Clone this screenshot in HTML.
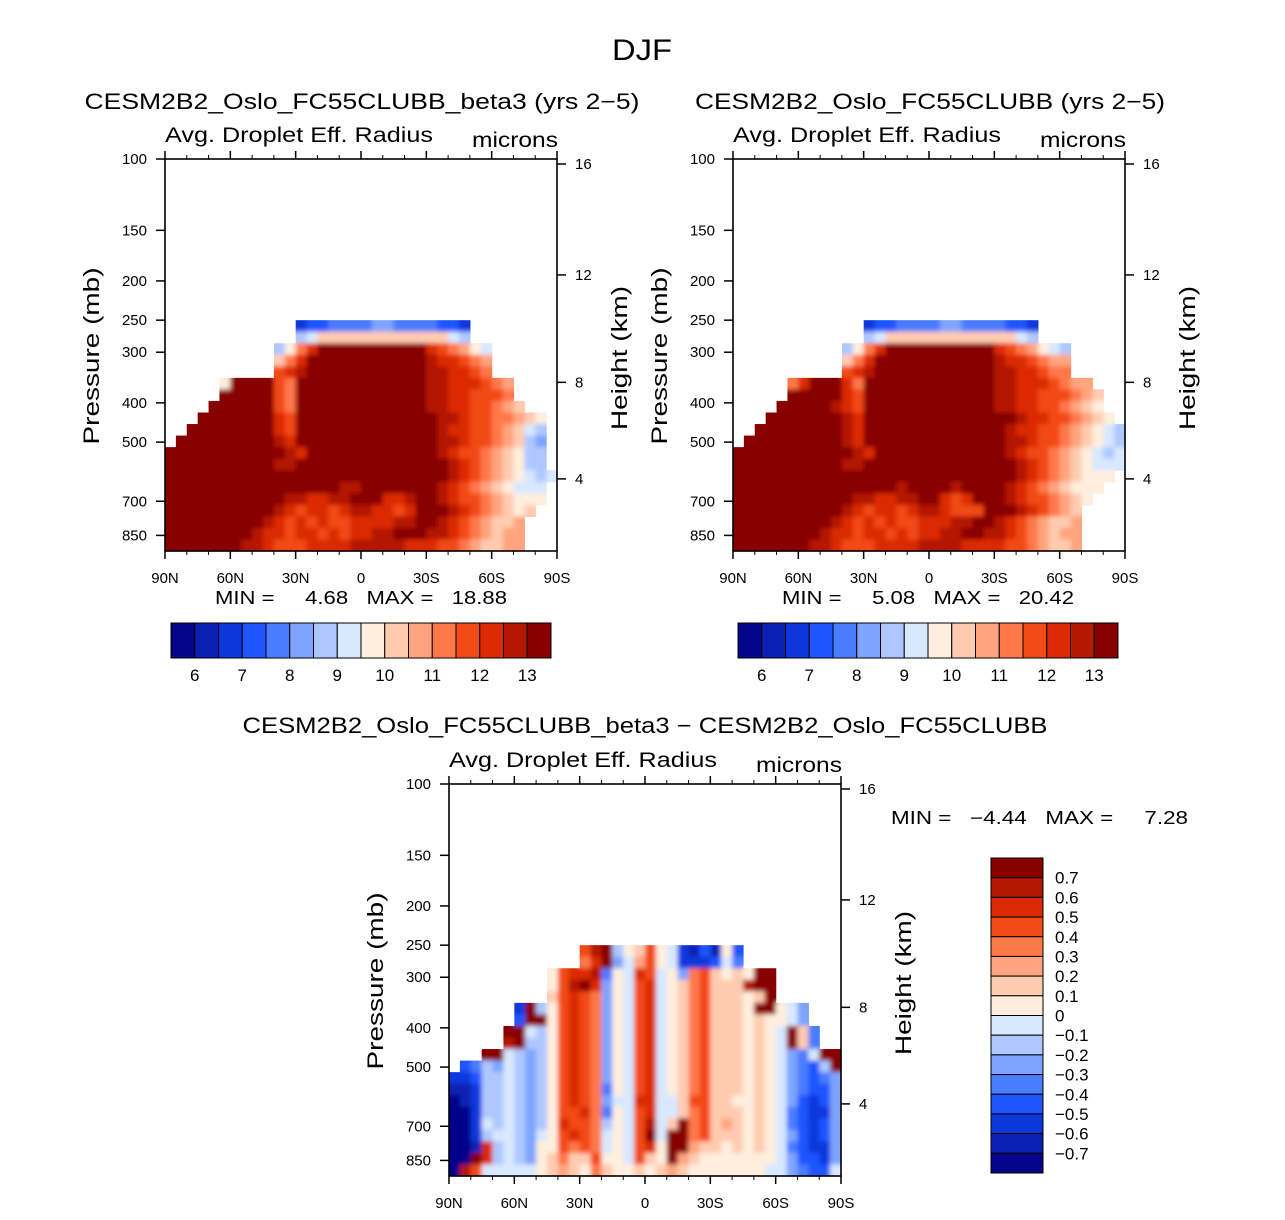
<!DOCTYPE html>
<html><head><meta charset="utf-8"><style>
html,body{margin:0;padding:0;background:#fff;}
svg text{font-family:"Liberation Sans","DejaVu Sans",sans-serif;fill:#000;white-space:pre;}
</style></head><body>
<svg id="fig" width="1285" height="1215" viewBox="0 0 1285 1215" xmlns="http://www.w3.org/2000/svg">
<defs>
<filter id="smooth" x="0" y="0" width="1" height="1">
<feGaussianBlur in="SourceGraphic" stdDeviation="2.5" result="b"/>
<feComponentTransfer in="b" result="c"><feFuncA type="linear" slope="3" intercept="0"/></feComponentTransfer>
<feComposite in="c" in2="SourceAlpha" operator="in"/>
</filter>
</defs>
<text x="642" y="60" font-size="30" text-anchor="middle" textLength="60" lengthAdjust="spacingAndGlyphs">DJF</text>
</svg>
<script>
const palette=['#05058a','#0a20b4','#0d37dc','#1f55ff','#4a7cff','#7ea4ff','#aec8ff','#d8e8ff','#ffeedd','#ffcbb0','#ffa47e','#ff7848','#f24a18','#dc2a05','#b41800','#880000'];
const latTicks=['90N','60N','30N','0','30S','60S','90S'];
const presTicks=[100,150,200,250,300,400,500,700,850];
const hgtTicks=[16,12,8,4];
const cbLabels1=['6','7','8','9','10','11','12','13'];
const cbLabels3=['0.7','0.6','0.5','0.4','0.3','0.2','0.1','0','\u22120.1','\u22120.2','\u22120.3','\u22120.4','\u22120.5','\u22120.6','\u22120.7'];
const field1=[
"............2334444554444332........",
"............6799999999999976........",
"..........68bdffffffffffdcba87......",
"..........9bdfffffffffffeddcba......",
"..........cdefffffffffffeeddcb......",
".....8ffffcbffffffffffffeedddcba....",
".....fffffcbffffffffffffeeddcccb....",
"....ffffffcbffffffffffffeeddccba9...",
"...fffffffdcfffffffffffffeedccbba98.",
"..ffffffffdcfffffffffffffeddccba976.",
".fffffffffedfffffffffffffeedccba965.",
"fffffffffffedffffffffffffedccba9866.",
"ffffffffffeeffffffffffffffedcba9866.",
"ffffffffffffffffffffffffffedcba98767",
"ffffffffffffffffeefffffffedcba98777.",
"fffffffffffeeddeefffddeffedccba9888.",
"ffffffffffedcddcdeeddcdfffedcba989..",
"fffffffffedcdcdccddddeeffedcba99a...",
"ffffffffeddcddcdcddeefffeedcba9aa...",
"fffffffeedcccddddeeeeedddccba99aa..."];
const field2=[
"............2334444554444332........",
"............6799999999999976........",
"..........68bdffffffffffdcba876.....",
"..........9bdfffffffffffeddcbaa.....",
"..........cdefffffffffffeeddcbb.....",
".....bdfffdbffffffffffffeedddcbaa...",
".....fffffdcffffffffffffeeddcccba9..",
"....fffffedcffffffffffffeeddccba98..",
"...fffffffedffffffffffffffeddccba98.",
"..ffffffffedfffffffffffffeddccba9876",
".fffffffffedfffffffffffffeedccba9876",
"fffffffffffedffffffffffffedccba98767",
"ffffffffffeeffffffffffffffedcba98777",
"ffffffffffffffffffffffffffedcba9888.",
"fffffffffffffffeffffeffffedcba9888..",
"fffffffffffeeddeeffdcdfffedccba98...",
"ffffffffffedcddcdeedcccfffedcba9....",
"fffffffffedcdcdccdddeeffedcba99a....",
"ffffffffeddcddcdcddeeffeedcba9aa....",
"fffffffeedcccddddeeeeddddccba99a...."];
const field3=[
"............cef689c87213183.........",
"............bdf57ac87222374.........",
".........8cdde487dc785bc9898ff......",
".........8cefd587cd789bc999eff......",
".........9cdcb587cd789bc99989f......",
"......2f68cdcb587cd789bc9998ff875...",
"......3ff8cdcb587cd789bc999898875...",
".....ff768cdcb587cd789bc9998987f94..",
".....ef668cdcb587cd789bc9998987f94..",
"...ff76568cdcb587cd789bc9998987547ff",
".346576568cdcb587cd789bc99989875436f",
"2236676568cdcb587cd789bc999898754345",
"1126676568cdcb487cd789bc999898754335",
"0126676568cdcb577dd779cc998898753235",
"0026676568ccdb487cd779bc999898743225",
"0027676568dccb687ce79fbc9a9898743235",
"0026776578cdcb787cf7ffbc999898753235",
"001d676588cbcb787cd8ffa9989898743225",
"00fd676589b99c887c98fa98888888753325",
"0ec7777789a98b988989a988888887754337"];

const NS='http://www.w3.org/2000/svg';
const svg=document.getElementById('fig');
function el(tag,attrs,parent){const e=document.createElementNS(NS,tag);for(const k in attrs)e.setAttribute(k,attrs[k]);(parent||svg).appendChild(e);return e;}
function txt(s,x,y,size,anchor,parent,rot,len){const t=el('text',{x:x,y:y,'font-size':size,'text-anchor':anchor||'middle'},parent);if(rot)t.setAttribute('transform','rotate(-90 '+x+' '+y+')');if(len){t.setAttribute('textLength',len);t.setAttribute('lengthAdjust','spacingAndGlyphs');}t.textContent=s;return t;}
function hgtToP(z){if(z<=11)return 1013.25*Math.pow(1-z*6.5/288.15,5.2559);return 226.32*Math.exp(-(z-11)/6.3416);}

function panel(name,x0,y0,field,title,minmax){
  const W=392,H=392,K=405;
  const g=el('g',{});
  
  
  const xS=lat=>x0+(90-lat)/180*W;
  const yS=p=>y0+Math.log10(p/100)*K;
  const top=yS(250),bot=y0+H,nr=field.length,rh=(bot-top)/nr,cw=W/36;
  const cells=el('g',{filter:'url(#smooth)'},g);
  
  
  field.forEach((row,r)=>{
    for(let c=0;c<36;c++){
      const ch=row[c]||'.';
      if(ch==='.')continue;
      const lat=90-5*c;
      el('rect',{x:xS(lat),y:top+r*rh,width:cw+0.6,height:rh+0.6,fill:palette[parseInt(ch,16)]},cells);
    }
  });
  const frame=el('rect',{x:x0,y:y0,width:W,height:H,fill:'none',stroke:'#000','stroke-width':1.6},g);
  
  
  latTicks.forEach((l,i)=>{
    const x=xS(90-30*i);
    el('line',{x1:x,y1:y0+H,x2:x,y2:y0+H+8,stroke:'#000','stroke-width':1.5},g);
    el('line',{x1:x,y1:y0,x2:x,y2:y0-8,stroke:'#000','stroke-width':1.5},g);
    const t=txt(l,x,y0+H+32,15,'middle',g);
    
    
  });
  for(let l=80;l>-90;l-=10){if(l%30===0)continue;const x=xS(l);
    el('line',{x1:x,y1:y0+H,x2:x,y2:y0+H+4,stroke:'#000','stroke-width':1},g);
    el('line',{x1:x,y1:y0,x2:x,y2:y0-4,stroke:'#000','stroke-width':1},g);}
  presTicks.forEach(p=>{
    const y=yS(p);
    el('line',{x1:x0-9,y1:y,x2:x0,y2:y,stroke:'#000','stroke-width':1.5},g);
    const t=txt(String(p),x0-18,y+5,15,'end',g);
    
    
  });
  hgtTicks.forEach(h=>{
    const y=yS(hgtToP(h));
    el('line',{x1:x0+W,y1:y,x2:x0+W+9,y2:y,stroke:'#000','stroke-width':1.5},g);
    const t=txt(String(h),x0+W+18,y+5,15,'start',g);
    
    
  });
  const yl=txt('Pressure (mb)',x0-66,y0+197,22,'middle',g,true,177);
  
  
  const yr=txt('Height (km)',x0+W+70,y0+199,22,'middle',g,true,144);
  
  
  const st=txt('Avg. Droplet Eff. Radius',x0+134,y0-17,21,'middle',g,false,268);
  
  
  const un=txt('microns',x0+350,y0-12,21,'middle',g,false,86);
  
  
  const tt=txt(title.s,title.x,title.y,22,'middle',g,false,title.w);
  
  
  const mm=txt(minmax.s,minmax.x,minmax.y,18,minmax.a,g,false,minmax.w);
  
  
}

function hColorbar(name,x,y){
  const g=el('g',{});
  
  
  const bw=380/16;
  palette.forEach((c,i)=>{el('rect',{x:x+i*bw,y:y,width:bw,height:35,fill:c,stroke:'#000','stroke-width':1},g);});
  cbLabels1.forEach((l,i)=>{const t=txt(l,x+(1+2*i)*bw,y+58,17,'middle',g);
    
    });
}
function vColorbar(name,x,y){
  const g=el('g',{});
  
  
  const bh=315/16;
  for(let i=0;i<16;i++)el('rect',{x:x,y:y+i*bh,width:52,height:bh,fill:palette[15-i],stroke:'#000','stroke-width':1},g);
  cbLabels3.forEach((l,i)=>{const t=txt(l,x+64,y+(i+1)*bh+6,17,'start',g);
    
    });
}

panel('panel-beta3',165,159,field1,{s:'CESM2B2_Oslo_FC55CLUBB_beta3 (yrs 2\u22125)',x:362,y:109,w:555},{s:'MIN =     4.68   MAX =   18.88',x:361,y:604,a:'middle',w:292});
panel('panel-control',733,159,field2,{s:'CESM2B2_Oslo_FC55CLUBB (yrs 2\u22125)',x:930,y:109,w:470},{s:'MIN =     5.08   MAX =   20.42',x:928,y:604,a:'middle',w:292});
panel('panel-difference',449,784,field3,{s:'CESM2B2_Oslo_FC55CLUBB_beta3 \u2212 CESM2B2_Oslo_FC55CLUBB',x:645,y:733,w:805},{s:'MIN =   \u22124.44   MAX =     7.28',x:891,y:824,a:'start',w:297});
hColorbar('colorbar-beta3',171,623);
hColorbar('colorbar-control',738,623);
vColorbar('colorbar-difference',991,858);
</script>
</body></html>
